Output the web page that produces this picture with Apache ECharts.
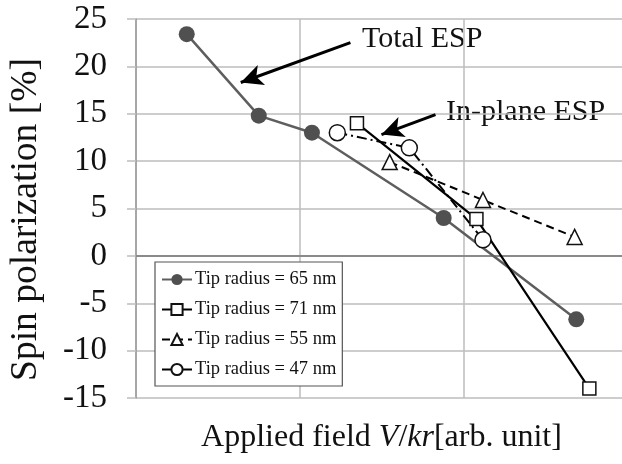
<!doctype html>
<html>
<head>
<meta charset="utf-8">
<script src="https://cdn.jsdelivr.net/npm/echarts@6/dist/echarts.min.js"></script>
<style>
    html, body {margin: 0; padding: 0; background: #fff;}
    #chart {width: 622px; height: 464px;}
</style>
</head>
<body>
<div id="chart"></div>
<script>
    var serif = "'Liberation Serif', 'Times New Roman', serif";

    // data (x is arbitrary units, y is %)
    var names = ['Tip radius = 65 nm', 'Tip radius = 71 nm', 'Tip radius = 55 nm', 'Tip radius = 47 nm'];
    var x65 = [0.31, 0.75, 1.075, 1.88, 2.69];
    var y65 = [23.4, 14.8, 13.0, 4.0, -6.7];
    var x71 = [1.35, 2.08, 2.77];
    var y71 = [14.0, 3.9, -14.0];
    var x55 = [1.55, 2.12, 2.68];
    var y55 = [9.9, 5.9, 2.0];
    var x47 = [1.23, 1.67, 2.12];
    var y47 = [13.0, 11.4, 1.7];
    var yTicks = {min: -15, max: 25, step: 5};

    // annotation arrows, in data coords: [fromX, fromY, toX, toY]
    var arrowTotal = [1.31, 22.5, 0.64, 18.3];
    var arrowInPlane = [1.83, 14.9, 1.50, 12.8];

    function pairs(xs, ys) {
        var out = [];
        for (var i = 0; i < xs.length; i++) out.push([xs[i], ys[i]]);
        return out;
    }
    function arrow(a) {
        return [{coord: [a[0], a[1]]}, {coord: [a[2], a[3]]}];
    }

    var dom = document.getElementById('chart');
    var myChart = echarts.init(dom, null, {renderer: 'canvas'});

    var option = {
        animation: false,
        backgroundColor: '#fff',
        grid: {left: 136, top: 19, right: -5, bottom: 66, containLabel: false, outerBoundsMode: 'none'},
        legend: {
            orient: 'vertical',
            left: 155,
            top: 262,
            padding: [8, 6, 7, 6],
            itemGap: 11,
            itemWidth: 30,
            itemHeight: 14,
            backgroundColor: '#fff',
            borderColor: '#555',
            borderWidth: 1.2,
            textStyle: {fontFamily: serif, fontSize: 18.5, color: '#111', padding: [0, 0, 0, -2]},
            data: names
        },
        xAxis: {
            type: 'value',
            min: 0,
            max: 3,
            interval: 1,
            name: '{n|Applied field }{i|V}{n|/}{i|kr}{n|[arb. unit]}',
            nameLocation: 'middle',
            nameGap: 24,
            nameTextStyle: {
                rich: {
                    n: {fontFamily: serif, fontSize: 32, color: '#111'},
                    i: {fontFamily: serif, fontSize: 32, color: '#111', fontStyle: 'italic'}
                }
            },
            axisLine: {show: true, lineStyle: {color: '#8a8a8a', width: 2}},
            axisTick: {show: false},
            axisLabel: {show: false},
            splitLine: {show: true, lineStyle: {color: '#bdbdbd', width: 1.5}}
        },
        yAxis: {
            type: 'value',
            min: yTicks.min,
            max: yTicks.max,
            interval: yTicks.step,
            name: 'Spin polarization [%]',
            nameLocation: 'middle',
            nameGap: 91,
            nameTextStyle: {fontFamily: serif, fontSize: 37.5, color: '#111', padding: [0, 22, 0, 0]},
            axisLine: {show: true, lineStyle: {color: '#9a9a9a', width: 1.5}},
            axisTick: {show: true, inside: false, length: 9, lineStyle: {color: '#bdbdbd', width: 1.5}},
            axisLabel: {fontFamily: serif, fontSize: 33, color: '#111', margin: 29},
            splitLine: {show: true, lineStyle: {color: '#bdbdbd', width: 1.5}}
        },
        graphic: [
            {
                type: 'text', left: 362, top: 24, silent: true,
                style: {text: 'Total ESP', font: '30px ' + serif, fill: '#111'}
            },
            {
                type: 'text', left: 446, top: 97, silent: true,
                style: {text: 'In-plane ESP', font: '30px ' + serif, fill: '#111'}
            }
        ],
        series: [
            {
                name: names[0],
                type: 'line',
                data: pairs(x65, y65),
                symbol: 'circle',
                symbolSize: 16,
                lineStyle: {color: '#5e5e5e', width: 2.5},
                itemStyle: {color: '#505050'},
                z: 3,
                markLine: {
                    silent: true,
                    symbol: ['none', 'arrow'],
                    symbolSize: [16, 22],
                    label: {show: false},
                    lineStyle: {color: '#000', width: 3, type: 'solid'},
                    data: [arrow(arrowTotal), arrow(arrowInPlane)]
                }
            },
            {
                name: names[1],
                type: 'line',
                data: pairs(x71, y71),
                symbol: 'rect',
                symbolSize: 13,
                lineStyle: {color: '#000', width: 2.2},
                itemStyle: {color: '#fff', borderColor: '#111', borderWidth: 1.5},
                z: 4
            },
            {
                name: names[2],
                type: 'line',
                data: pairs(x55, y55),
                symbol: 'triangle',
                symbolSize: 15,
                lineStyle: {color: '#000', width: 2, type: [8, 5]},
                itemStyle: {color: '#fff', borderColor: '#111', borderWidth: 1.5},
                z: 4
            },
            {
                name: names[3],
                type: 'line',
                data: pairs(x47, y47),
                symbol: 'circle',
                symbolSize: 16,
                lineStyle: {color: '#000', width: 2, type: [10, 4, 2, 4]},
                itemStyle: {color: '#fff', borderColor: '#111', borderWidth: 1.5},
                z: 4
            }
        ]
    };

    myChart.setOption(option);
</script>
</body>
</html>
